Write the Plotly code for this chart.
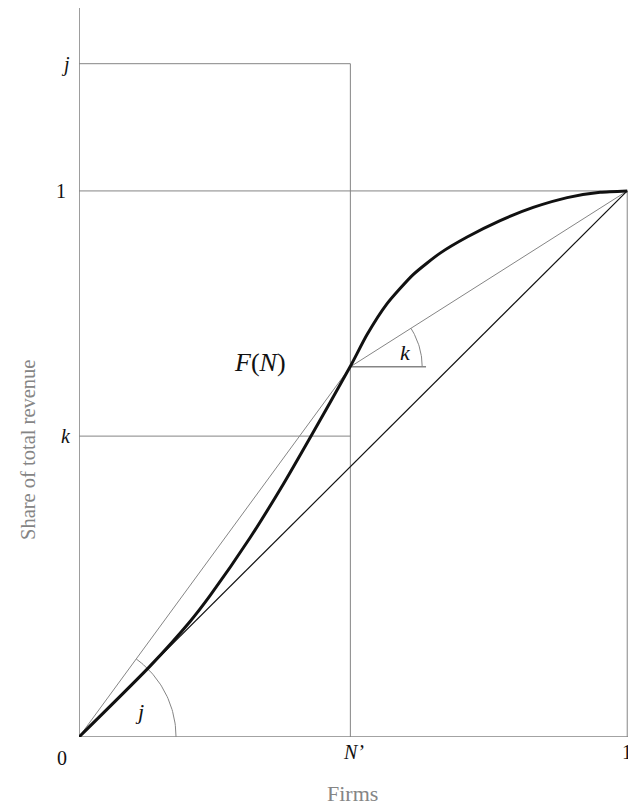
import numpy as np
import plotly.graph_objects as go

# Curve F(N): share of firms vs share of total revenue
firms_share = [0.0, 0.1296, 0.2026, 0.239, 0.312, 0.3723, 0.4215, 0.4945,
               0.5255, 0.562, 0.6095, 0.6588, 0.708, 0.7682, 0.8285, 0.8905, 0.9507, 1.0]
revenue_share = [0.0, 0.1298, 0.2116, 0.2589, 0.3648, 0.4625, 0.5481, 0.678,
                 0.7369, 0.7935, 0.8467, 0.8861, 0.9156, 0.9457, 0.9698, 0.9878, 0.9974, 1.0]

N_prime = 0.495
F_N_prime = 0.678
k_level = 0.551
j_level = 1.233
k_ray_end = 0.633
j_arc_radius = 0.177
k_arc_radius = 0.131

x_max = 1.016
y_max = 1.335

GRAY = "#858585"
SERIF = "Liberation Serif, Times New Roman, serif"

fig = go.Figure()

def line(xs, ys, color=GRAY, width=1):
    fig.add_trace(go.Scatter(x=xs, y=ys, mode="lines", hoverinfo="skip",
                             line=dict(color=color, width=width), showlegend=False))

# axes
line([0, 0], [0, y_max], GRAY, 1.6)
line([0, x_max], [0, 0], GRAY, 1.6)
# guide lines
line([0, N_prime, N_prime], [j_level, j_level, 0])
line([0, 1, 1], [1, 1, 0])
line([0, N_prime], [k_level, k_level])
# rays
line([0, N_prime], [0, F_N_prime])
line([N_prime, 1], [F_N_prime, 1])
line([N_prime, k_ray_end], [F_N_prime, F_N_prime], GRAY, 1.3)
line([0, 1], [0, 1], "#111111", 1.2)

# arcs
a_j = np.arctan2(F_N_prime, N_prime)
t = np.linspace(0, a_j, 40)
line(list(j_arc_radius * np.cos(t)), list(j_arc_radius * np.sin(t)))
a_k = np.arctan2(1 - F_N_prime, 1 - N_prime)
t = np.linspace(0, a_k, 30)
line(list(N_prime + k_arc_radius * np.cos(t)), list(F_N_prime + k_arc_radius * np.sin(t)))

# F(N) curve
fig.add_trace(go.Scatter(x=firms_share, y=revenue_share, mode="lines", hoverinfo="skip",
                         line=dict(color="#111111", width=3, shape="spline", smoothing=0.6),
                         showlegend=False))

def ann(x, y, text, size=20, color="#111111", dx=0, dy=0, **kw):
    fig.add_annotation(x=x, y=y, xref="x", yref="y", text=text, showarrow=False,
                       xshift=dx, yshift=dy,
                       font=dict(family=SERIF, size=size, color=color), **kw)

# tick-like labels
ann(0, 0, "0", dx=-17, dy=-21)
ann(N_prime, 0, "<i>N’</i>", dx=3, dy=-15)
ann(1.0, 0, "1", dy=-15)
ann(0, 1, "1", dx=-18)
ann(0, k_level, "<i>k</i>", dx=-13)
ann(0, j_level, "<i>j</i>", dx=-14, dy=-1)
# angle labels
ann(0.1095, 0.046, "<i>j</i>", size=22)
ann(0.595, 0.704, "<i>k</i>", size=22)
ann(0.330, 0.686, "<i>F</i>(<i>N</i>)", size=26)

# axis titles
ann(N_prime, 0, "Firms", size=22, color=GRAY, dx=2, dy=-56)
ann(0, 0.5256, "Share of total revenue", size=20.5, color=GRAY, dx=-51, textangle=-90)

fig.update_layout(
    width=628, height=798,
    margin=dict(l=71, r=0, t=0, b=69),
    plot_bgcolor="white", paper_bgcolor="white",
    xaxis=dict(range=[0, x_max], visible=False, fixedrange=True),
    yaxis=dict(range=[0, y_max], visible=False, fixedrange=True),
)

fig.write_html("out.html")
